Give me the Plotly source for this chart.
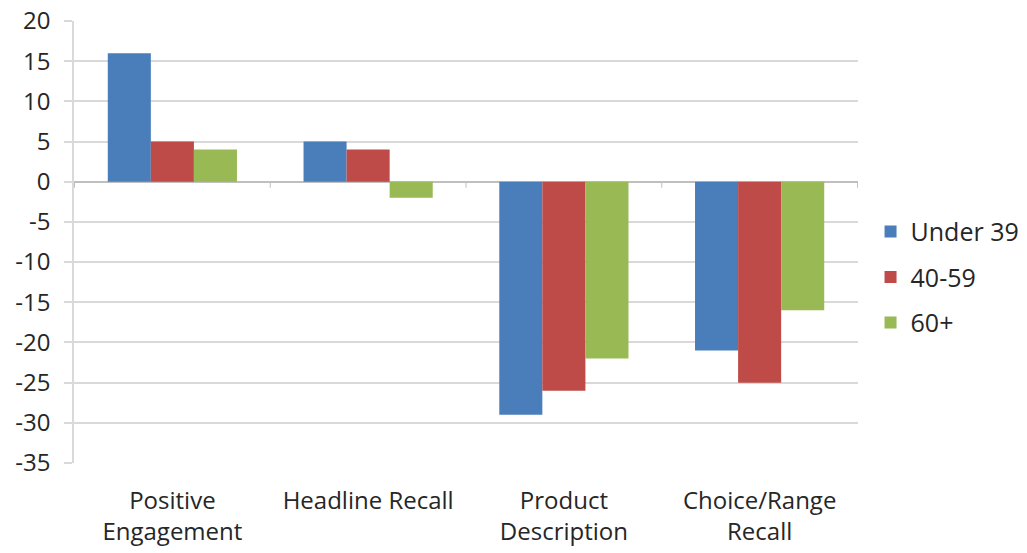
import plotly.graph_objects as go

categories = ["Positive<br>Engagement", "Headline Recall", "Product<br>Description", "Choice/Range<br>Recall"]
series_names = ["Under 39", "40-59", "60+"]
under_39 = [16, 5, -29, -21]
age_40_59 = [5, 4, -26, -25]
age_60_plus = [4, -2, -22, -16]
tick_values = [20, 15, 10, 5, 0, -5, -10, -15, -20, -25, -30, -35]
tick_labels = ["20", "15", "10", "5", "0", "-5", "-10", "-15", "-20", "-25", "-30", "-35"]

colors = ["#4A7EBB", "#BE4B48", "#98B954"]
FONT = "Open Sans"
TEXT = "#262626"

fig = go.Figure()
for i, (name, vals) in enumerate(zip(series_names, [under_39, age_40_59, age_60_plus])):
    fig.add_trace(go.Bar(
        x=categories, y=vals, name=name, marker_color=colors[i],
        marker_line_width=0, legendgroup=name,
    ))

# small tick marks on the zero line between categories
for k in range(len(categories) + 1):
    fig.add_shape(type="line", xref="x", yref="y", x0=k - 0.5, x1=k - 0.5,
                  ysizemode="pixel", yanchor=0, y0=0, y1=-6,
                  line=dict(color="#BFBFBF", width=1))

fig.update_layout(
    width=1027, height=553,
    margin=dict(l=74, r=169, t=21, b=90, autoexpand=False),
    paper_bgcolor="white", plot_bgcolor="white",
    barmode="group", bargap=0.34, bargroupgap=0,
    font=dict(family=FONT, color=TEXT, size=22),
    legend=dict(x=1.016, y=0.42, xanchor="left", yanchor="middle",
                tracegroupgap=10, font=dict(size=25, color=TEXT),
                itemwidth=30),
    showlegend=True,
)
fig.update_xaxes(
    showgrid=False, showline=False, zeroline=False, ticks="",
    automargin=False, ticklabelstandoff=21,
    tickfont=dict(size=24, color=TEXT),
)
fig.update_yaxes(
    range=[-35, 20], tickvals=tick_values, ticktext=tick_labels,
    automargin=False,
    showgrid=True, gridcolor="#D9D9D9", gridwidth=1.5,
    zeroline=True, zerolinecolor="#BFBFBF", zerolinewidth=1.5,
    showline=True, linecolor="#D9D9D9", linewidth=1.5,
    ticks="outside", ticklen=8, tickcolor="#D9D9D9", tickwidth=1.5,
    ticklabelstandoff=9,
    tickfont=dict(size=24, color=TEXT),
)

fig.write_html("out.html")
